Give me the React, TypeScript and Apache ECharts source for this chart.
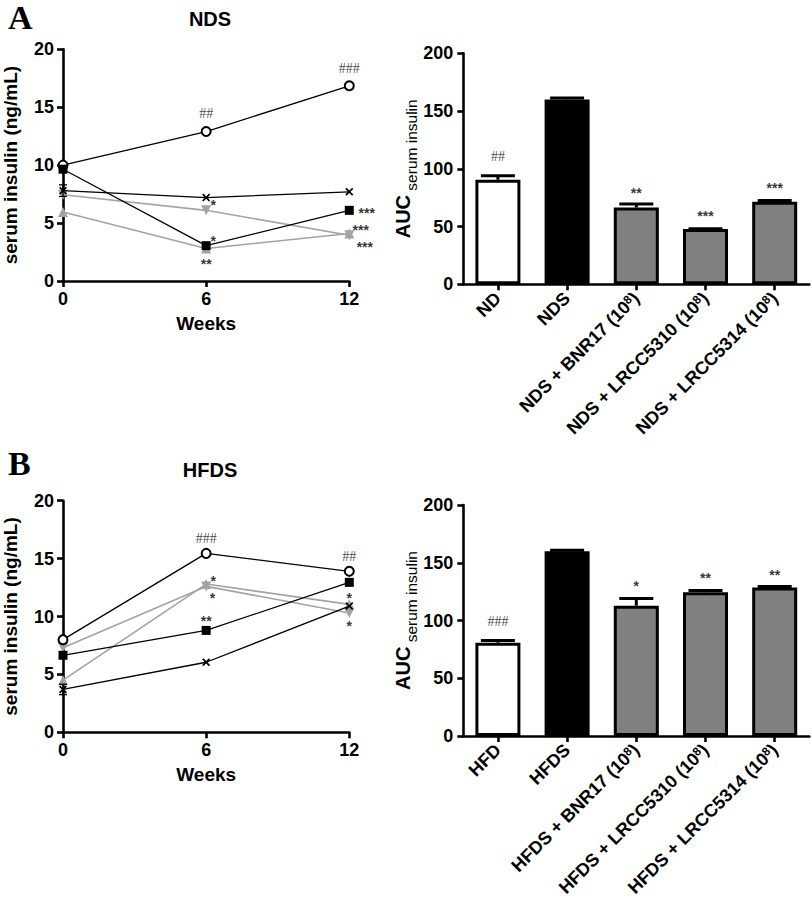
import React, { useEffect, useRef } from "react";
import * as echarts from "echarts";

// ---------- data ----------
const weeks = [0, 6, 12];
const weekTicks = ["0", "6", "12"];

// Panel A (NDS) serum insulin, ng/mL
const ndsCircle = [10.0, 12.9, 16.85];
const ndsSquare = [9.65, 3.05, 6.1];
const ndsCross = [7.8, 7.2, 7.7];
const ndsDown = [7.45, 6.1, 3.95];
const ndsUp = [5.95, 2.8, 4.1];
const ndsCrossErr = [0.5, 0, 0];

// Panel B (HFDS) serum insulin, ng/mL
const hfdsCircle = [8.0, 15.45, 13.9];
const hfdsSquare = [6.65, 8.8, 12.95];
const hfdsCross = [3.7, 6.05, 10.9];
const hfdsDown = [7.3, 12.6, 10.3];
const hfdsUp = [4.5, 12.8, 11.05];
const hfdsCrossErr = [0.45, 0, 0];

// AUC bars
const ndsBarCats = ["ND", "NDS", "NDS + BNR17 (10", "NDS + LRCC5310 (10", "NDS + LRCC5314 (10"];
const ndsAuc = [90.5, 160, 66.5, 47.8, 71.5];
const ndsAucErr = [3.5, 1.2, 3, 0.3, 1];
const hfdsBarCats = ["HFD", "HFDS", "HFDS + BNR17 (10", "HFDS + LRCC5310 (10", "HFDS + LRCC5314 (10"];
const hfdsAuc = [80.8, 160, 112.8, 124.5, 128.5];
const hfdsAucErr = [1.8, 0.8, 6.3, 1.5, 1];
const barColors = ["#ffffff", "#000000", "#808080", "#808080", "#808080"];

// significance marks [x, y, text]
const ndsLineMarks: [number, number, string][] = [
  [6, 14.5, "##"],
  [12, 18.3, "###"],
  [6.3, 6.85, "*"],
  [6.3, 3.75, "*"],
  [6, 1.75, "**"],
  [12.73, 6.12, "***"],
  [12.48, 4.62, "***"],
  [12.65, 3.2, "***"],
];
const hfdsLineMarks: [number, number, string][] = [
  [6, 16.75, "###"],
  [12, 15.16, "##"],
  [6.3, 13.3, "*"],
  [6.27, 11.85, "*"],
  [6, 9.9, "**"],
  [12, 11.86, "*"],
  [12, 9.41, "*"],
];
const ndsBarMarks: [number, number, string][] = [
  [0, 110.5, "##"],
  [2, 81.6, "**"],
  [3, 61.5, "***"],
  [4, 86, "***"],
];
const hfdsBarMarks: [number, number, string][] = [
  [0, 99, "###"],
  [2, 132.7, "*"],
  [3, 139.4, "**"],
  [4, 141.7, "**"],
];

// ---------- helpers ----------
const FONT = 'Arial, "Liberation Sans", sans-serif';
const SERIF = '"Liberation Serif", "Times New Roman", serif';
const crossSymbol =
  "path://M0,1.5L1.5,0L5,3.5L8.5,0L10,1.5L6.5,5L10,8.5L8.5,10L5,6.5L1.5,10L0,8.5L3.5,5Z";
const GRAY = "#a3a3a3";

function lineSeries(idx: number, name: string, vals: number[], kind: string) {
  const black = kind === "circle" || kind === "square" || kind === "cross";
  const color = black ? "#000" : GRAY;
  let symbol = "emptyCircle";
  let symbolRotate = 0;
  let symbolSize = 9;
  if (kind === "square") { symbol = "rect"; symbolSize = 9; }
  if (kind === "cross") { symbol = crossSymbol; symbolSize = 8; }
  if (kind === "down") { symbol = "triangle"; symbolRotate = 180; symbolSize = 10; }
  if (kind === "up") { symbol = "triangle"; symbolSize = 10; }
  return {
    type: "line",
    name,
    xAxisIndex: idx,
    yAxisIndex: idx,
    data: weeks.map((w, i) => [w, vals[i]]),
    symbol,
    symbolRotate,
    symbolSize,
    showAllSymbol: true,
    lineStyle: { color, width: black ? 1.3 : 1.6 },
    itemStyle: { color, borderColor: color, borderWidth: kind === "circle" ? 1.3 : 0 },
    z: black ? 4 : 3,
  };
}

function errSeries(idx: number, vals: number[], errs: number[], both: boolean, cap: number, lw: number) {
  const data = vals.map((v, i) => [both ? weeks[i] : i, v, errs[i]]).filter((d) => d[2] > 0);
  return {
    type: "custom",
    xAxisIndex: idx,
    yAxisIndex: idx,
    data,
    z: 5,
    clip: false,
    renderItem: (params: any, api: any) => {
      const x = api.value(0);
      const v = api.value(1);
      const e = api.value(2);
      const pTop = api.coord([x, v + e]);
      const pLo = both ? api.coord([x, v - e]) : api.coord([x, v]);
      const h = cap / 2;
      const st = { stroke: "#000", lineWidth: lw };
      const children: any[] = [
        { type: "line", shape: { x1: pLo[0], y1: pLo[1], x2: pTop[0], y2: pTop[1] }, style: st },
        { type: "line", shape: { x1: pTop[0] - h, y1: pTop[1], x2: pTop[0] + h, y2: pTop[1] }, style: st },
      ];
      if (both) {
        children.push({ type: "line", shape: { x1: pLo[0] - h, y1: pLo[1], x2: pLo[0] + h, y2: pLo[1] }, style: st });
      }
      return { type: "group", children };
    },
  };
}

function styledMarks(idx: number, marks: [number, number, string][]) {
  return {
    type: "scatter",
    xAxisIndex: idx,
    yAxisIndex: idx,
    symbolSize: 0,
    clip: false,
    silent: true,
    z: 6,
    itemStyle: { color: "transparent" },
    emphasis: { disabled: true },
    label: { show: true, position: "inside", color: "#000", formatter: (p: any) => p.name },
    data: marks.map((m) => {
      const hash = m[2].indexOf("#") >= 0;
      return {
        value: [m[0], m[1]],
        name: m[2],
        label: hash
          ? { fontFamily: SERIF, fontSize: 14, fontWeight: "normal", lineHeight: 10, color: "#111" }
          : { fontFamily: FONT, fontSize: 14, fontWeight: "bold", lineHeight: 8, offset: [0, 3] },
      };
    }),
  };
}

const axisLineStyle = { color: "#000", width: 2.6 };
const tickStyle = { show: true, length: 6, lineStyle: { width: 2.6, color: "#000" } };
const tickLabel = { fontFamily: FONT, fontWeight: "bold", fontSize: 18, color: "#000" };

function lineXAxis(idx: number) {
  return {
    type: "value",
    gridIndex: idx,
    min: 0,
    max: 12,
    interval: 6,
    name: "Weeks",
    nameLocation: "middle",
    nameGap: 33,
    nameTextStyle: { fontFamily: FONT, fontWeight: "bold", fontSize: 19, color: "#000" },
    axisLine: { show: true, onZero: false, lineStyle: axisLineStyle },
    axisTick: tickStyle,
    axisLabel: {
      ...tickLabel,
      margin: 9,
      formatter: (v: number) => weekTicks[weeks.indexOf(v)] ?? String(v),
    },
    splitLine: { show: false },
  };
}

function lineYAxis(idx: number) {
  return {
    type: "value",
    gridIndex: idx,
    min: 0,
    max: 20,
    interval: 5,
    name: "serum insulin (ng/mL)",
    nameLocation: "middle",
    nameGap: 43,
    nameTextStyle: { fontFamily: FONT, fontWeight: "bold", fontSize: 19, color: "#000" },
    axisLine: { show: true, lineStyle: axisLineStyle },
    axisTick: tickStyle,
    axisLabel: { ...tickLabel, margin: 9 },
    splitLine: { show: false },
  };
}

function barXAxis(idx: number, cats: string[]) {
  return {
    type: "category",
    gridIndex: idx,
    data: cats,
    axisLine: { show: true, lineStyle: axisLineStyle },
    axisTick: { ...tickStyle, alignWithLabel: true },
    axisLabel: {
      interval: 0,
      rotate: 45,
      margin: 11,
      color: "#000",
      formatter: (v: string) => (v.indexOf("(10") >= 0 ? `{n|${v}}{s|8}{n|)}` : `{n|${v}}`),
      rich: {
        n: { fontFamily: FONT, fontWeight: "bold", fontSize: 18, color: "#000" },
        s: { fontFamily: FONT, fontWeight: "bold", fontSize: 12, color: "#000", verticalAlign: "top" },
      },
    },
  };
}

function barYAxis(idx: number) {
  return {
    type: "value",
    gridIndex: idx,
    min: 0,
    max: 200,
    interval: 50,
    name: "{a|AUC}{b| serum insulin}",
    nameLocation: "middle",
    nameGap: 40,
    nameTextStyle: {
      color: "#000",
      rich: {
        a: { fontFamily: FONT, fontWeight: "bold", fontSize: 20, color: "#000", padding: [0, 0, 6, 0] },
        b: { fontFamily: FONT, fontWeight: "normal", fontSize: 15.5, color: "#000", verticalAlign: "bottom" },
      },
    },
    axisLine: { show: true, lineStyle: axisLineStyle },
    axisTick: tickStyle,
    axisLabel: { ...tickLabel, margin: 10 },
    splitLine: { show: false },
  };
}

function barSeries(idx: number, vals: number[]) {
  return {
    type: "bar",
    xAxisIndex: idx,
    yAxisIndex: idx,
    barWidth: 45,
    data: vals.map((v, i) => ({
      value: v,
      itemStyle: { color: barColors[i], borderColor: "#000", borderWidth: 3 },
    })),
    z: 2,
  };
}

export default function App() {
  const ref = useRef<HTMLDivElement>(null);
  useEffect(() => {
    if (!ref.current) return;
    const chart = echarts.init(ref.current, null, { renderer: "svg" });
    const option: any = {
      animation: false,
      backgroundColor: "#fff",
      title: [
        { text: "A", left: 3, top: -5, textStyle: { fontFamily: SERIF, fontWeight: "bold", fontSize: 34, color: "#000" } },
        { text: "NDS", left: 205, top: 4, textAlign: "center", textStyle: { fontFamily: FONT, fontWeight: "bold", fontSize: 20, color: "#000" } },
        { text: "B", left: 3, top: 441, textStyle: { fontFamily: SERIF, fontWeight: "bold", fontSize: 34, color: "#000" } },
        { text: "HFDS", left: 205, top: 455, textAlign: "center", textStyle: { fontFamily: FONT, fontWeight: "bold", fontSize: 20, color: "#000" } },
      ],
      grid: [
        { left: 62, top: 49.3, width: 287.3, height: 231.7 },
        { left: 463.3, top: 53.3, width: 346, height: 231 },
        { left: 62, top: 500.7, width: 287.3, height: 231.6 },
        { left: 463.3, top: 505, width: 346, height: 231 },
      ],
      xAxis: [lineXAxis(0), barXAxis(1, ndsBarCats), lineXAxis(2), barXAxis(3, hfdsBarCats)],
      yAxis: [lineYAxis(0), barYAxis(1), lineYAxis(2), barYAxis(3)],
      series: [
        lineSeries(0, "ND", ndsCircle, "circle"),
        lineSeries(0, "NDS", ndsSquare, "square"),
        lineSeries(0, "NDS + BNR17", ndsCross, "cross"),
        lineSeries(0, "NDS + LRCC5310", ndsDown, "down"),
        lineSeries(0, "NDS + LRCC5314", ndsUp, "up"),
        errSeries(0, ndsCross, ndsCrossErr, true, 8, 1.3),
        styledMarks(0, ndsLineMarks),

        barSeries(1, ndsAuc),
        errSeries(1, ndsAuc, ndsAucErr, false, 34, 3),
        styledMarks(1, ndsBarMarks),

        lineSeries(2, "HFD", hfdsCircle, "circle"),
        lineSeries(2, "HFDS", hfdsSquare, "square"),
        lineSeries(2, "HFDS + BNR17", hfdsCross, "cross"),
        lineSeries(2, "HFDS + LRCC5310", hfdsDown, "down"),
        lineSeries(2, "HFDS + LRCC5314", hfdsUp, "up"),
        errSeries(2, hfdsCross, hfdsCrossErr, true, 8, 1.3),
        styledMarks(2, hfdsLineMarks),

        barSeries(3, hfdsAuc),
        errSeries(3, hfdsAuc, hfdsAucErr, false, 34, 3),
        styledMarks(3, hfdsBarMarks),
      ],
    };
    chart.setOption(option);
    return () => chart.dispose();
  }, []);
  return (
    <div
      ref={ref}
      style={{ position: "fixed", left: 0, top: 0, width: 812, height: 900, background: "#fff" }}
    />
  );
}
